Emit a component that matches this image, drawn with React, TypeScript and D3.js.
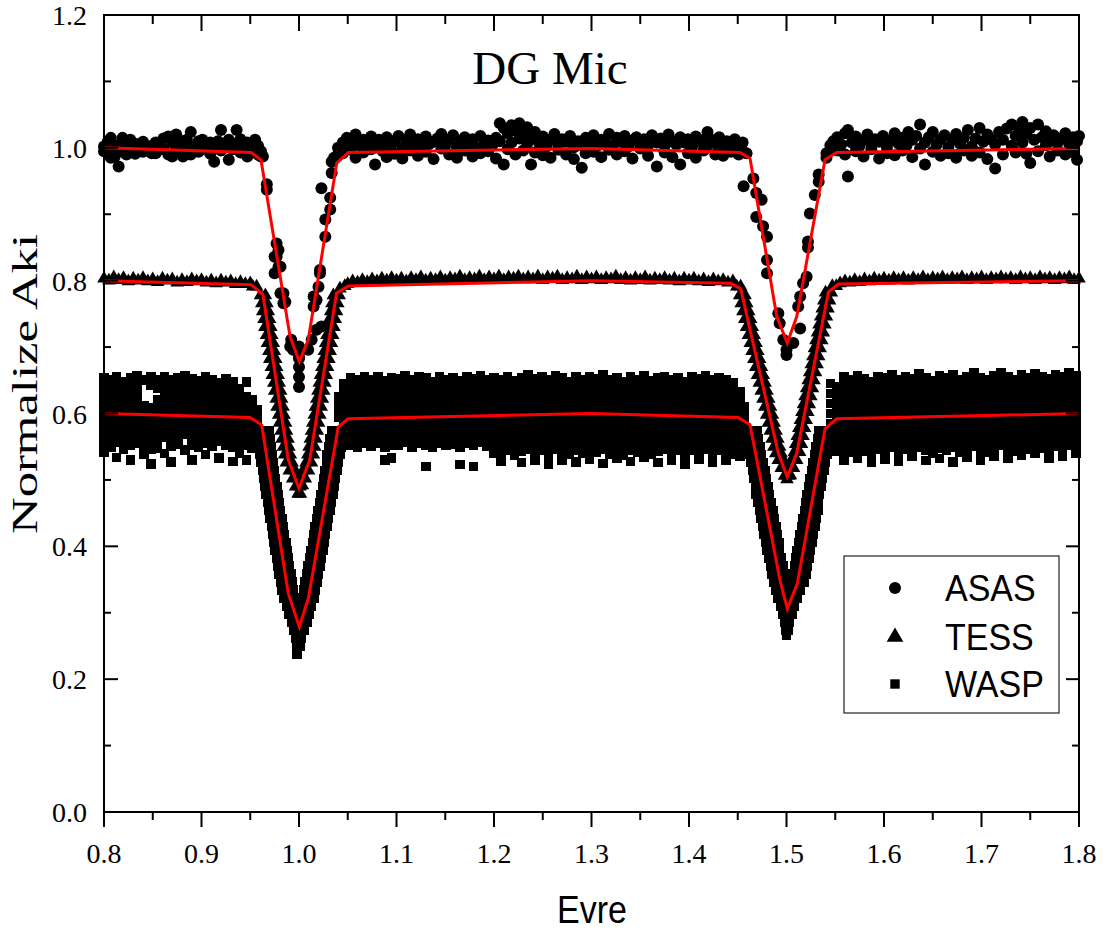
import React from "react";
import * as d3 from "d3";

const W = 1104;
const H = 938;

const xTickVals = [0.8, 0.9, 1.0, 1.1, 1.2, 1.3, 1.4, 1.5, 1.6, 1.7, 1.8];
const xMinorVals = [0.85, 0.95, 1.05, 1.15, 1.25, 1.35, 1.45, 1.55, 1.65, 1.75];
const yTickVals = [0, 0.2, 0.4, 0.6, 0.8, 1.0, 1.2];
const yMinorVals = [0.1, 0.3, 0.5, 0.7, 0.9, 1.1];
const legendLabels = ["ASAS", "TESS", "WASP"];
const titleText = "DG Mic";
const xTitle = "Evre";
const yTitle = "Normalize Aki";

// ASAS: [phase, ...fluxes]
const asasCols = [
  [0.8, 1.002, 0.995], [0.804, 1.01], [0.807, 1.015, 0.985], [0.811, 0.987, 0.998], [0.815, 0.972, 1.004],
  [0.819, 1.015, 0.995], [0.823, 0.99, 1.008], [0.827, 1.012, 0.997], [0.832, 1.006, 0.991], [0.836, 1.001],
  [0.84, 1.009, 0.994], [0.845, 0.998], [0.849, 1.003, 0.992], [0.853, 0.992, 1.008], [0.857, 1.006],
  [0.861, 1.014, 0.998], [0.866, 1.017, 0.99], [0.87, 0.987, 1.008], [0.874, 1.02, 1.0], [0.878, 0.995],
  [0.881, 0.987, 1.01], [0.885, 1.012, 0.998], [0.889, 1.024, 0.99], [0.893, 1.002], [0.897, 1.01, 0.994],
  [0.901, 0.998, 1.012], [0.905, 1.005], [0.909, 0.991, 1.008], [0.913, 0.979, 1.002], [0.917, 1.01],
  [0.92, 1.027, 0.996], [0.924, 1.004], [0.928, 0.982, 1.012], [0.932, 0.998], [0.936, 1.027, 1.006],
  [0.94, 1.013, 0.993], [0.944, 1.0], [0.947, 0.987, 1.008], [0.951, 1.007, 0.995], [0.955, 0.998, 1.012],
  [0.958, 0.99, 1.003], [0.961, 0.987, 0.995],
  [0.963, 0.987], [0.967, 0.937, 0.945], [0.975, 0.836, 0.811], [0.977, 0.856, 0.836], [0.979, 0.846, 0.821],
  [0.981, 0.821, 0.781], [0.984, 0.781, 0.766], [0.986, 0.768], [0.991, 0.701], [0.992, 0.711], [0.994, 0.696],
  [1.0, 0.701, 0.686, 0.67, 0.655, 0.64, 0.683], [1.0095, 0.696], [1.013, 0.711], [1.015, 0.776, 0.761],
  [1.018, 0.726, 0.771], [1.02, 0.791], [1.0215, 0.816, 0.811], [1.023, 0.731, 0.939], [1.027, 0.866, 0.892],
  [1.032, 0.907, 0.925], [1.0335, 0.962, 0.979], [1.036, 0.985], [1.04, 1.0, 0.99],
  [1.045, 1.008, 0.992], [1.049, 1.015], [1.053, 0.997, 1.01], [1.058, 1.02, 0.985], [1.062, 1.004],
  [1.066, 0.993, 1.012], [1.07, 1.008], [1.074, 0.998, 1.017], [1.078, 0.975, 1.003], [1.082, 1.012],
  [1.086, 0.995, 1.006], [1.09, 1.016, 0.986], [1.094, 1.003], [1.098, 0.991, 1.01], [1.102, 1.018],
  [1.106, 1.0, 0.984], [1.11, 1.011], [1.114, 0.996, 1.02], [1.118, 1.005], [1.122, 0.988, 1.013],
  [1.126, 1.002], [1.13, 1.017, 0.994], [1.134, 1.006], [1.138, 0.983, 1.009], [1.142, 1.014],
  [1.146, 0.999, 1.021], [1.15, 1.004], [1.154, 0.99, 1.012], [1.158, 1.019], [1.162, 1.001, 0.985],
  [1.166, 1.01], [1.17, 0.996, 1.016], [1.174, 1.005], [1.178, 0.987, 1.013], [1.182, 1.0],
  [1.186, 1.018, 0.992], [1.19, 1.007], [1.194, 0.995, 1.011], [1.198, 1.003], [1.202, 0.984, 1.015],
  [1.206, 1.037, 1.01], [1.21, 0.975, 1.03], [1.214, 1.022, 0.998], [1.218, 1.034, 1.008], [1.222, 1.026, 0.99],
  [1.226, 1.037, 1.014], [1.23, 1.02, 0.996], [1.234, 1.031, 1.006], [1.238, 0.975, 1.015], [1.242, 1.024, 0.993],
  [1.246, 1.008], [1.25, 0.989, 1.017], [1.254, 1.002], [1.258, 1.012, 0.985], [1.262, 1.021],
  [1.266, 0.997, 1.006], [1.27, 1.013], [1.274, 0.99, 1.009], [1.278, 1.018], [1.282, 1.001, 0.983],
  [1.286, 1.01], [1.29, 0.97, 1.004], [1.294, 1.015, 0.992], [1.298, 1.007], [1.302, 0.994, 1.019],
  [1.306, 1.003], [1.31, 0.986, 1.012], [1.314, 1.008], [1.318, 1.021, 0.997], [1.322, 1.004],
  [1.326, 0.99, 1.015], [1.33, 1.009], [1.334, 0.995, 1.018], [1.338, 1.002], [1.342, 0.984, 1.011],
  [1.346, 1.016], [1.35, 0.999, 1.007], [1.354, 1.013], [1.358, 0.988, 1.004], [1.362, 1.019],
  [1.367, 0.972, 1.008], [1.371, 1.014], [1.375, 0.993, 1.003], [1.379, 1.02], [1.383, 0.986, 1.01],
  [1.387, 1.005], [1.391, 0.975, 1.016], [1.395, 1.008], [1.399, 0.992, 1.013], [1.403, 1.001],
  [1.407, 0.985, 1.017], [1.411, 1.009], [1.415, 0.996, 1.012], [1.419, 1.024, 1.004], [1.423, 1.012],
  [1.427, 0.99, 1.007], [1.431, 1.016], [1.435, 1.002, 0.988], [1.439, 1.01], [1.443, 0.994, 1.006],
  [1.447, 1.013], [1.451, 0.99, 1.003], [1.455, 1.008, 0.995],
  [1.459, 0.992], [1.456, 0.942], [1.466, 0.954], [1.469, 0.932, 0.896], [1.4745, 0.922], [1.476, 0.882],
  [1.48, 0.866, 0.831, 0.811], [1.4916, 0.751], [1.493, 0.736], [1.4967, 0.711], [1.5, 0.696, 0.688],
  [1.507, 0.706], [1.514, 0.728, 0.776], [1.512, 0.761], [1.517, 0.796], [1.5206, 0.806], [1.522, 0.859, 0.85],
  [1.524, 0.901], [1.529, 0.929], [1.533, 0.949, 0.96], [1.541, 0.992, 0.985], [1.545, 1.004],
  [1.548, 1.01], [1.552, 0.996, 1.016], [1.556, 1.005], [1.56, 1.022, 0.99], [1.563, 1.027, 0.957],
  [1.567, 1.008], [1.571, 0.995, 1.017], [1.575, 1.003], [1.579, 0.987, 1.012], [1.583, 1.02],
  [1.587, 0.998, 1.006], [1.591, 1.013], [1.595, 0.984, 1.009], [1.599, 1.018], [1.603, 1.0, 0.992],
  [1.607, 1.011], [1.611, 0.989, 1.022], [1.615, 1.006], [1.619, 0.996, 1.015], [1.623, 1.003],
  [1.625, 1.024], [1.629, 0.986, 1.012], [1.633, 1.018], [1.637, 1.035, 0.999], [1.642, 0.975, 1.008],
  [1.646, 1.016], [1.65, 0.994, 1.024], [1.654, 1.005], [1.658, 0.988, 1.013], [1.662, 1.019],
  [1.666, 1.001, 0.992], [1.67, 1.012], [1.674, 0.985, 1.021], [1.678, 1.006], [1.682, 0.996, 1.015],
  [1.686, 1.027], [1.69, 1.002, 0.988], [1.694, 1.014], [1.698, 0.993, 1.03], [1.702, 1.009],
  [1.706, 0.983, 1.02], [1.71, 1.013], [1.714, 0.969, 1.005], [1.718, 1.024], [1.722, 0.99, 1.012],
  [1.726, 1.029], [1.731, 1.035, 1.003], [1.735, 0.993, 1.018], [1.739, 1.026], [1.742, 1.039, 1.008],
  [1.746, 0.991, 1.021], [1.75, 0.977, 1.03], [1.754, 1.012], [1.758, 1.035, 0.995], [1.762, 1.016],
  [1.766, 1.004, 1.025], [1.77, 0.987, 1.01], [1.774, 1.019], [1.778, 0.996, 1.008], [1.782, 1.014],
  [1.786, 0.99, 1.022], [1.79, 1.005], [1.794, 1.016, 0.993], [1.798, 0.982, 1.01], [1.8, 1.018],
];

// TESS out of eclipse: [phase, flux]
const tessCols = [
  [0.8, 0.803], [0.805, 0.8], [0.81, 0.805], [0.815, 0.801], [0.82, 0.804], [0.825, 0.799], [0.83, 0.803],
  [0.835, 0.8], [0.84, 0.804], [0.845, 0.799], [0.85, 0.802], [0.855, 0.798], [0.86, 0.803], [0.865, 0.8],
  [0.87, 0.802], [0.875, 0.797], [0.88, 0.801], [0.885, 0.798], [0.89, 0.802], [0.895, 0.799], [0.9, 0.801],
  [0.905, 0.797], [0.91, 0.8], [0.915, 0.796], [0.92, 0.8], [0.925, 0.797], [0.93, 0.799], [0.935, 0.795],
  [0.94, 0.798], [0.945, 0.795], [0.95, 0.796],
  [1.05, 0.795], [1.055, 0.799], [1.06, 0.797], [1.065, 0.801], [1.07, 0.798], [1.075, 0.802], [1.08, 0.799],
  [1.085, 0.803], [1.09, 0.8], [1.095, 0.804], [1.1, 0.8], [1.105, 0.803], [1.11, 0.799], [1.115, 0.804],
  [1.12, 0.801], [1.125, 0.805], [1.13, 0.8], [1.135, 0.803], [1.14, 0.801], [1.145, 0.805], [1.15, 0.8],
  [1.155, 0.804], [1.16, 0.802], [1.165, 0.806], [1.17, 0.801], [1.175, 0.804], [1.18, 0.802], [1.185, 0.806],
  [1.19, 0.801], [1.195, 0.805], [1.2, 0.802], [1.205, 0.806], [1.21, 0.801], [1.215, 0.805], [1.22, 0.803],
  [1.225, 0.806], [1.23, 0.802], [1.235, 0.805], [1.24, 0.802], [1.245, 0.806], [1.25, 0.801], [1.255, 0.805],
  [1.26, 0.803], [1.265, 0.806], [1.27, 0.801], [1.275, 0.804], [1.28, 0.802], [1.285, 0.806], [1.29, 0.801],
  [1.295, 0.805], [1.3, 0.802], [1.305, 0.805], [1.31, 0.801], [1.315, 0.804], [1.32, 0.802], [1.325, 0.806],
  [1.33, 0.801], [1.335, 0.804], [1.34, 0.8], [1.345, 0.804], [1.35, 0.801], [1.355, 0.805], [1.36, 0.8],
  [1.365, 0.803], [1.37, 0.801], [1.375, 0.804], [1.38, 0.8], [1.385, 0.803], [1.39, 0.799], [1.395, 0.803],
  [1.4, 0.8], [1.405, 0.803], [1.41, 0.799], [1.415, 0.802], [1.42, 0.798], [1.425, 0.802], [1.43, 0.799],
  [1.435, 0.801], [1.44, 0.797], [1.445, 0.799],
  [1.555, 0.796], [1.56, 0.799], [1.565, 0.797], [1.57, 0.801], [1.575, 0.798], [1.58, 0.802], [1.585, 0.799],
  [1.59, 0.803], [1.595, 0.8], [1.6, 0.803], [1.605, 0.8], [1.61, 0.804], [1.615, 0.801], [1.62, 0.804],
  [1.625, 0.8], [1.63, 0.804], [1.635, 0.801], [1.64, 0.805], [1.645, 0.801], [1.65, 0.804], [1.655, 0.802],
  [1.66, 0.805], [1.665, 0.801], [1.67, 0.804], [1.675, 0.802], [1.68, 0.805], [1.685, 0.801], [1.69, 0.804],
  [1.695, 0.802], [1.7, 0.805], [1.705, 0.801], [1.71, 0.804], [1.715, 0.802], [1.72, 0.805], [1.725, 0.802],
  [1.73, 0.804], [1.735, 0.801], [1.74, 0.805], [1.745, 0.802], [1.75, 0.804], [1.755, 0.801], [1.76, 0.805],
  [1.765, 0.802], [1.77, 0.804], [1.775, 0.801], [1.78, 0.804], [1.785, 0.802], [1.79, 0.805], [1.795, 0.801],
  [1.8, 0.803],
];

// TESS in eclipse: [flux, ...phases]
const tessEclipseRows = [
  [0.791, 0.9525, 0.9565], [0.778, 0.9605, 0.9655], [0.766, 0.9618, 0.9672], [0.754, 0.9628, 0.9685],
  [0.742, 0.9641, 0.9699], [0.73, 0.965, 0.9712], [0.718, 0.9667, 0.9722], [0.706, 0.9676, 0.9737],
  [0.694, 0.9691, 0.9748], [0.682, 0.97, 0.9762], [0.67, 0.9716, 0.9772], [0.658, 0.9725, 0.9787],
  [0.646, 0.9741, 0.9797], [0.634, 0.975, 0.9812], [0.622, 0.9766, 0.9822], [0.61, 0.9775, 0.9837],
  [0.598, 0.9791, 0.9847], [0.586, 0.98, 0.9863], [0.574, 0.9816, 0.9872], [0.562, 0.9826, 0.9888],
  [0.55, 0.984, 0.9897], [0.538, 0.9852, 0.9912], [0.526, 0.987, 0.993], [0.514, 0.99, 0.996],
  [0.502, 0.9935, 0.999], [0.49, 0.9965, 1.001], [0.479, 0.999, 1.0015],
  [0.492, 1.0035], [0.502, 1.001, 1.0065], [0.514, 1.004, 1.0098], [0.526, 1.0072, 1.0128],
  [0.538, 1.009, 1.0148], [0.55, 1.0103, 1.0162], [0.562, 1.0116, 1.0175], [0.574, 1.0129, 1.0188],
  [0.586, 1.0141, 1.0201], [0.598, 1.0156, 1.0214], [0.61, 1.0168, 1.0228], [0.622, 1.0182, 1.024],
  [0.634, 1.0194, 1.0254], [0.646, 1.0208, 1.0266], [0.658, 1.022, 1.028], [0.67, 1.0234, 1.0293],
  [0.682, 1.0247, 1.0307], [0.694, 1.026, 1.032], [0.706, 1.0273, 1.0333], [0.718, 1.0286, 1.0346],
  [0.73, 1.0299, 1.0359], [0.742, 1.0312, 1.0372], [0.754, 1.0325, 1.0385], [0.766, 1.0338, 1.0398],
  [0.778, 1.0352, 1.0412], [0.788, 1.042], [0.792, 1.047],
  [0.791, 1.449, 1.453], [0.778, 1.452, 1.4575], [0.766, 1.4535, 1.4593], [0.754, 1.4553, 1.4612],
  [0.742, 1.4572, 1.4632], [0.73, 1.459, 1.465], [0.718, 1.4609, 1.4669], [0.706, 1.4628, 1.4688],
  [0.694, 1.4646, 1.4706], [0.682, 1.4665, 1.4725], [0.67, 1.4684, 1.4744], [0.658, 1.4702, 1.4762],
  [0.646, 1.4721, 1.4781], [0.634, 1.474, 1.48], [0.622, 1.4758, 1.4818], [0.61, 1.4777, 1.4837],
  [0.598, 1.4796, 1.4856], [0.586, 1.4814, 1.4874], [0.574, 1.4833, 1.4893], [0.562, 1.4852, 1.4912],
  [0.55, 1.487, 1.493], [0.54, 1.489, 1.4945], [0.53, 1.4915, 1.497], [0.518, 1.4945, 1.5],
  [0.506, 1.498, 1.5025], [0.501, 1.5005],
  [0.507, 1.504], [0.518, 1.5018, 1.5072], [0.53, 1.505, 1.5105], [0.542, 1.508, 1.5135],
  [0.554, 1.5094, 1.5154], [0.566, 1.511, 1.517], [0.578, 1.5126, 1.5186], [0.59, 1.5142, 1.5202],
  [0.602, 1.5158, 1.5218], [0.614, 1.5174, 1.5234], [0.626, 1.519, 1.525], [0.638, 1.5206, 1.5266],
  [0.65, 1.5222, 1.5282], [0.662, 1.5238, 1.5298], [0.674, 1.5254, 1.5314], [0.686, 1.527, 1.533],
  [0.698, 1.5286, 1.5346], [0.71, 1.5302, 1.5362], [0.722, 1.5318, 1.5378], [0.734, 1.5334, 1.5394],
  [0.746, 1.535, 1.541], [0.758, 1.5366, 1.5426], [0.77, 1.5382, 1.5442], [0.782, 1.54, 1.546],
  [0.792, 1.547, 1.551],
];

// WASP out of eclipse: [phase, ...fluxes]
const waspCols = [
  [0.8, 0.654, 0.641, 0.63, 0.617, 0.603, 0.59, 0.579, 0.566, 0.553, 0.541],
  [0.807, 0.65, 0.637, 0.626, 0.612, 0.6, 0.588, 0.575, 0.561, 0.549],
  [0.813, 0.656, 0.645, 0.631, 0.619, 0.606, 0.594, 0.582, 0.569, 0.557, 0.534],
  [0.82, 0.648, 0.636, 0.622, 0.61, 0.598, 0.585, 0.572, 0.56, 0.546],
  [0.827, 0.653, 0.64, 0.627, 0.615, 0.602, 0.591, 0.578, 0.566, 0.553, 0.53],
  [0.834, 0.657, 0.644, 0.629, 0.618, 0.605, 0.593, 0.58, 0.568, 0.555],
  [0.841, 0.65, 0.612, 0.6, 0.587, 0.575, 0.563, 0.55, 0.538],
  [0.848, 0.655, 0.643, 0.608, 0.596, 0.583, 0.571, 0.558, 0.546, 0.524],
  [0.855, 0.651, 0.638, 0.621, 0.609, 0.597, 0.584, 0.572, 0.56, 0.548],
  [0.862, 0.656, 0.642, 0.63, 0.616, 0.603, 0.59, 0.577, 0.565, 0.54],
  [0.869, 0.65, 0.637, 0.625, 0.613, 0.6, 0.588, 0.576, 0.563, 0.551, 0.527],
  [0.876, 0.653, 0.641, 0.628, 0.616, 0.604, 0.591, 0.579, 0.567, 0.554],
  [0.883, 0.657, 0.644, 0.632, 0.619, 0.607, 0.594, 0.582, 0.569, 0.545],
  [0.89, 0.652, 0.639, 0.627, 0.614, 0.602, 0.59, 0.577, 0.565, 0.552, 0.53],
  [0.897, 0.649, 0.636, 0.624, 0.612, 0.599, 0.587, 0.574, 0.562, 0.55],
  [0.904, 0.655, 0.642, 0.629, 0.617, 0.605, 0.592, 0.58, 0.568, 0.555, 0.538],
  [0.911, 0.651, 0.638, 0.626, 0.613, 0.601, 0.589, 0.576, 0.564, 0.551],
  [0.918, 0.646, 0.634, 0.621, 0.609, 0.597, 0.584, 0.572, 0.559, 0.533],
  [0.925, 0.652, 0.64, 0.627, 0.615, 0.603, 0.59, 0.578, 0.566, 0.553],
  [0.932, 0.648, 0.636, 0.623, 0.611, 0.599, 0.586, 0.574, 0.561, 0.549, 0.528],
  [0.939, 0.637, 0.624, 0.612, 0.6, 0.588, 0.575, 0.563, 0.551, 0.54],
  [0.946, 0.647, 0.625, 0.613, 0.601, 0.589, 0.577, 0.565, 0.553, 0.53],
  [0.952, 0.62, 0.608, 0.596, 0.584, 0.572, 0.56, 0.548],
  [0.957, 0.605, 0.592, 0.58],
  [1.041, 0.625, 0.61, 0.595],
  [1.046, 0.645, 0.632, 0.619, 0.606, 0.594, 0.582, 0.57, 0.558],
  [1.053, 0.653, 0.64, 0.627, 0.614, 0.602, 0.59, 0.577, 0.565, 0.553],
  [1.06, 0.65, 0.637, 0.624, 0.612, 0.6, 0.587, 0.575, 0.562, 0.55],
  [1.067, 0.655, 0.642, 0.629, 0.616, 0.603, 0.591, 0.579, 0.567, 0.556],
  [1.074, 0.651, 0.638, 0.626, 0.613, 0.601, 0.589, 0.576, 0.563, 0.551],
  [1.081, 0.656, 0.643, 0.63, 0.618, 0.605, 0.593, 0.58, 0.568, 0.555],
  [1.088, 0.649, 0.636, 0.623, 0.611, 0.599, 0.586, 0.574, 0.561, 0.549, 0.53],
  [1.095, 0.654, 0.641, 0.628, 0.615, 0.603, 0.59, 0.578, 0.566, 0.553, 0.533],
  [1.102, 0.652, 0.639, 0.626, 0.614, 0.601, 0.589, 0.576, 0.564, 0.552],
  [1.109, 0.657, 0.644, 0.631, 0.619, 0.606, 0.594, 0.581, 0.569, 0.557],
  [1.116, 0.65, 0.637, 0.625, 0.612, 0.6, 0.588, 0.575, 0.563, 0.55],
  [1.123, 0.655, 0.642, 0.629, 0.617, 0.604, 0.592, 0.579, 0.567, 0.555],
  [1.13, 0.653, 0.64, 0.627, 0.615, 0.602, 0.59, 0.577, 0.565, 0.553, 0.52],
  [1.137, 0.648, 0.635, 0.622, 0.61, 0.598, 0.585, 0.573, 0.561, 0.549],
  [1.144, 0.656, 0.643, 0.63, 0.618, 0.605, 0.593, 0.581, 0.568, 0.556],
  [1.151, 0.651, 0.638, 0.625, 0.613, 0.601, 0.588, 0.576, 0.564, 0.552],
  [1.158, 0.654, 0.641, 0.628, 0.616, 0.603, 0.591, 0.579, 0.566, 0.554],
  [1.165, 0.649, 0.636, 0.624, 0.611, 0.599, 0.587, 0.574, 0.562, 0.55, 0.523],
  [1.172, 0.655, 0.642, 0.63, 0.617, 0.605, 0.592, 0.58, 0.568, 0.556],
  [1.179, 0.652, 0.639, 0.627, 0.614, 0.602, 0.59, 0.577, 0.565, 0.553, 0.52],
  [1.186, 0.657, 0.644, 0.631, 0.619, 0.606, 0.594, 0.582, 0.569, 0.557],
  [1.193, 0.65, 0.637, 0.625, 0.612, 0.6, 0.588, 0.575, 0.563, 0.551],
  [1.2, 0.654, 0.641, 0.628, 0.616, 0.603, 0.591, 0.579, 0.566, 0.554, 0.54],
  [1.207, 0.651, 0.638, 0.626, 0.613, 0.601, 0.589, 0.576, 0.564, 0.552, 0.54, 0.528],
  [1.214, 0.656, 0.643, 0.631, 0.618, 0.606, 0.593, 0.581, 0.569, 0.557, 0.545],
  [1.221, 0.649, 0.636, 0.624, 0.611, 0.599, 0.587, 0.574, 0.562, 0.55, 0.537],
  [1.228, 0.654, 0.641, 0.629, 0.616, 0.604, 0.592, 0.579, 0.567, 0.555, 0.543, 0.526],
  [1.235, 0.658, 0.645, 0.633, 0.62, 0.608, 0.595, 0.583, 0.571, 0.558, 0.546],
  [1.242, 0.652, 0.639, 0.627, 0.614, 0.602, 0.59, 0.577, 0.565, 0.553, 0.541, 0.529],
  [1.249, 0.655, 0.642, 0.63, 0.617, 0.605, 0.593, 0.58, 0.568, 0.556, 0.544],
  [1.256, 0.65, 0.637, 0.625, 0.612, 0.6, 0.588, 0.575, 0.563, 0.551, 0.539, 0.524],
  [1.263, 0.657, 0.644, 0.632, 0.619, 0.607, 0.594, 0.582, 0.57, 0.558, 0.546],
  [1.27, 0.653, 0.64, 0.628, 0.615, 0.603, 0.591, 0.578, 0.566, 0.554, 0.542, 0.53],
  [1.277, 0.648, 0.635, 0.623, 0.611, 0.599, 0.586, 0.574, 0.562, 0.55, 0.538],
  [1.284, 0.655, 0.643, 0.63, 0.618, 0.605, 0.593, 0.581, 0.568, 0.556, 0.544, 0.527],
  [1.291, 0.651, 0.638, 0.626, 0.614, 0.601, 0.589, 0.577, 0.565, 0.552, 0.54],
  [1.298, 0.656, 0.644, 0.631, 0.619, 0.606, 0.594, 0.582, 0.57, 0.557, 0.545, 0.531],
  [1.305, 0.652, 0.64, 0.627, 0.615, 0.603, 0.59, 0.578, 0.566, 0.554, 0.542],
  [1.312, 0.658, 0.645, 0.633, 0.62, 0.608, 0.596, 0.583, 0.571, 0.559, 0.547, 0.525],
  [1.319, 0.65, 0.637, 0.625, 0.613, 0.6, 0.588, 0.576, 0.564, 0.551, 0.539],
  [1.326, 0.654, 0.642, 0.629, 0.617, 0.605, 0.592, 0.58, 0.568, 0.556, 0.544, 0.532],
  [1.333, 0.647, 0.635, 0.622, 0.61, 0.598, 0.586, 0.573, 0.561, 0.549, 0.537],
  [1.34, 0.655, 0.643, 0.631, 0.618, 0.606, 0.594, 0.581, 0.569, 0.557, 0.545, 0.528],
  [1.347, 0.651, 0.639, 0.627, 0.614, 0.602, 0.59, 0.578, 0.565, 0.553, 0.541],
  [1.354, 0.657, 0.645, 0.632, 0.62, 0.608, 0.595, 0.583, 0.571, 0.559, 0.547, 0.534],
  [1.361, 0.649, 0.637, 0.624, 0.612, 0.6, 0.588, 0.575, 0.563, 0.551, 0.539],
  [1.368, 0.653, 0.641, 0.629, 0.616, 0.604, 0.592, 0.58, 0.567, 0.555, 0.543, 0.526],
  [1.375, 0.656, 0.644, 0.632, 0.619, 0.607, 0.595, 0.582, 0.57, 0.558, 0.546],
  [1.382, 0.65, 0.638, 0.626, 0.613, 0.601, 0.589, 0.577, 0.564, 0.552, 0.54, 0.53],
  [1.389, 0.654, 0.642, 0.63, 0.617, 0.605, 0.593, 0.581, 0.568, 0.556, 0.544],
  [1.396, 0.648, 0.636, 0.624, 0.611, 0.599, 0.587, 0.575, 0.562, 0.55, 0.538, 0.524],
  [1.403, 0.655, 0.643, 0.631, 0.619, 0.606, 0.594, 0.582, 0.57, 0.557, 0.545],
  [1.41, 0.652, 0.64, 0.628, 0.615, 0.603, 0.591, 0.579, 0.567, 0.554, 0.542, 0.531],
  [1.417, 0.657, 0.645, 0.633, 0.62, 0.608, 0.596, 0.584, 0.571, 0.559, 0.547],
  [1.424, 0.65, 0.638, 0.626, 0.614, 0.601, 0.589, 0.577, 0.565, 0.553, 0.541, 0.527],
  [1.431, 0.654, 0.642, 0.63, 0.618, 0.605, 0.593, 0.581, 0.569, 0.557, 0.545],
  [1.438, 0.651, 0.639, 0.627, 0.615, 0.602, 0.59, 0.578, 0.566, 0.554, 0.542, 0.529],
  [1.445, 0.646, 0.634, 0.622, 0.61, 0.598, 0.586, 0.574, 0.562, 0.55, 0.538],
  [1.452, 0.632, 0.62, 0.608, 0.596, 0.584, 0.572, 0.56, 0.548, 0.536],
  [1.457, 0.61, 0.595, 0.582],
  [1.545, 0.645, 0.63, 0.615, 0.6, 0.585],
  [1.552, 0.64, 0.628, 0.616, 0.603, 0.591, 0.579, 0.567, 0.555, 0.543],
  [1.559, 0.655, 0.643, 0.631, 0.618, 0.606, 0.594, 0.582, 0.569, 0.557, 0.545, 0.53],
  [1.566, 0.651, 0.639, 0.627, 0.614, 0.602, 0.59, 0.578, 0.565, 0.553, 0.541],
  [1.573, 0.657, 0.645, 0.633, 0.62, 0.608, 0.596, 0.583, 0.571, 0.559, 0.547, 0.533],
  [1.58, 0.652, 0.64, 0.628, 0.616, 0.603, 0.591, 0.579, 0.567, 0.555, 0.543],
  [1.587, 0.648, 0.636, 0.624, 0.612, 0.6, 0.587, 0.575, 0.563, 0.551, 0.539, 0.526],
  [1.594, 0.656, 0.644, 0.632, 0.619, 0.607, 0.595, 0.583, 0.571, 0.558, 0.546],
  [1.601, 0.653, 0.641, 0.629, 0.617, 0.604, 0.592, 0.58, 0.568, 0.556, 0.544, 0.531],
  [1.608, 0.659, 0.647, 0.634, 0.622, 0.61, 0.598, 0.586, 0.573, 0.561, 0.549],
  [1.615, 0.65, 0.638, 0.626, 0.614, 0.602, 0.589, 0.577, 0.565, 0.553, 0.541, 0.528],
  [1.622, 0.655, 0.643, 0.631, 0.619, 0.607, 0.594, 0.582, 0.57, 0.558, 0.546],
  [1.629, 0.652, 0.64, 0.628, 0.615, 0.603, 0.591, 0.579, 0.567, 0.555, 0.543, 0.535],
  [1.636, 0.66, 0.647, 0.635, 0.623, 0.611, 0.599, 0.586, 0.574, 0.562, 0.55],
  [1.643, 0.654, 0.642, 0.63, 0.618, 0.606, 0.593, 0.581, 0.569, 0.557, 0.545, 0.529],
  [1.65, 0.649, 0.637, 0.625, 0.613, 0.601, 0.589, 0.577, 0.564, 0.552, 0.54],
  [1.657, 0.657, 0.645, 0.633, 0.621, 0.609, 0.596, 0.584, 0.572, 0.56, 0.548, 0.532],
  [1.664, 0.653, 0.641, 0.629, 0.617, 0.604, 0.592, 0.58, 0.568, 0.556, 0.544],
  [1.671, 0.658, 0.646, 0.634, 0.622, 0.61, 0.598, 0.585, 0.573, 0.561, 0.549, 0.527],
  [1.678, 0.651, 0.639, 0.627, 0.615, 0.603, 0.59, 0.578, 0.566, 0.554, 0.542],
  [1.685, 0.656, 0.644, 0.632, 0.62, 0.608, 0.596, 0.583, 0.571, 0.559, 0.547, 0.534],
  [1.692, 0.661, 0.648, 0.636, 0.624, 0.612, 0.6, 0.588, 0.575, 0.563, 0.551],
  [1.699, 0.654, 0.642, 0.63, 0.618, 0.606, 0.593, 0.581, 0.569, 0.557, 0.545, 0.53],
  [1.706, 0.65, 0.638, 0.626, 0.614, 0.602, 0.59, 0.577, 0.565, 0.553, 0.541],
  [1.713, 0.657, 0.645, 0.633, 0.621, 0.609, 0.597, 0.585, 0.572, 0.56, 0.548, 0.536],
  [1.72, 0.662, 0.65, 0.638, 0.625, 0.613, 0.601, 0.589, 0.577, 0.565, 0.553],
  [1.727, 0.655, 0.643, 0.631, 0.619, 0.607, 0.595, 0.582, 0.57, 0.558, 0.546, 0.532],
  [1.734, 0.651, 0.639, 0.627, 0.615, 0.603, 0.591, 0.579, 0.567, 0.555, 0.543],
  [1.741, 0.658, 0.646, 0.634, 0.622, 0.61, 0.598, 0.586, 0.574, 0.561, 0.549, 0.537],
  [1.748, 0.654, 0.642, 0.63, 0.618, 0.606, 0.594, 0.582, 0.57, 0.558, 0.546],
  [1.755, 0.66, 0.648, 0.636, 0.624, 0.612, 0.6, 0.587, 0.575, 0.563, 0.551, 0.54],
  [1.762, 0.656, 0.644, 0.632, 0.62, 0.608, 0.596, 0.584, 0.572, 0.56, 0.548],
  [1.769, 0.652, 0.64, 0.628, 0.616, 0.604, 0.592, 0.58, 0.568, 0.556, 0.544, 0.533],
  [1.776, 0.659, 0.647, 0.635, 0.623, 0.611, 0.599, 0.587, 0.575, 0.563, 0.551],
  [1.783, 0.655, 0.643, 0.631, 0.619, 0.607, 0.595, 0.583, 0.571, 0.559, 0.547, 0.536],
  [1.79, 0.661, 0.649, 0.637, 0.625, 0.613, 0.601, 0.589, 0.577, 0.565, 0.553],
  [1.797, 0.657, 0.645, 0.633, 0.621, 0.609, 0.597, 0.585, 0.573, 0.561, 0.549, 0.54],
];

// WASP in eclipse: [flux, ...phases]
const waspEclipseRows = [
  [0.574, 0.956, 0.963, 0.969], [0.562, 0.958, 0.964, 0.97], [0.55, 0.959, 0.965, 0.971],
  [0.538, 0.96, 0.967, 0.972], [0.526, 0.961, 0.968, 0.974], [0.514, 0.963, 0.969, 0.975],
  [0.502, 0.964, 0.97, 0.976], [0.49, 0.965, 0.972, 0.978], [0.478, 0.966, 0.973, 0.979],
  [0.466, 0.968, 0.974, 0.98], [0.454, 0.969, 0.976, 0.981], [0.442, 0.97, 0.977, 0.983],
  [0.43, 0.972, 0.978, 0.984], [0.418, 0.973, 0.979, 0.985], [0.406, 0.974, 0.981, 0.987],
  [0.394, 0.975, 0.982, 0.988], [0.382, 0.977, 0.983, 0.989], [0.37, 0.978, 0.985, 0.99],
  [0.358, 0.979, 0.986, 0.992], [0.346, 0.981, 0.987, 0.993], [0.334, 0.982, 0.988, 0.994],
  [0.322, 0.984, 0.991, 0.996], [0.31, 0.987, 0.993, 0.999], [0.298, 0.99, 0.996, 1.001],
  [0.286, 0.993, 0.999, 1.004], [0.274, 0.995, 1.0, 1.005], [0.262, 0.997, 1.002], [0.25, 0.998, 1.001],
  [0.238, 0.998],
  [0.286, 1.002, 1.008], [0.298, 0.999, 1.005, 1.01], [0.31, 1.001, 1.007, 1.013], [0.322, 1.004, 1.01, 1.016],
  [0.334, 1.005, 1.011, 1.017], [0.346, 1.006, 1.012, 1.019], [0.358, 1.008, 1.014, 1.02],
  [0.37, 1.009, 1.015, 1.022], [0.382, 1.011, 1.017, 1.023], [0.394, 1.012, 1.018, 1.025],
  [0.406, 1.014, 1.02, 1.026], [0.418, 1.015, 1.021, 1.027], [0.43, 1.016, 1.022, 1.029],
  [0.442, 1.018, 1.024, 1.03], [0.454, 1.019, 1.025, 1.032], [0.466, 1.021, 1.027, 1.033],
  [0.478, 1.022, 1.028, 1.035], [0.49, 1.024, 1.03, 1.036], [0.502, 1.025, 1.031, 1.037],
  [0.514, 1.026, 1.032, 1.039], [0.526, 1.028, 1.034, 1.04], [0.538, 1.029, 1.035, 1.042],
  [0.55, 1.031, 1.037, 1.043], [0.562, 1.032, 1.038, 1.045], [0.574, 1.034, 1.04, 1.046],
  [0.574, 1.457, 1.464, 1.47], [0.562, 1.458, 1.465, 1.471], [0.55, 1.46, 1.467, 1.473],
  [0.538, 1.462, 1.468, 1.474], [0.526, 1.463, 1.47, 1.476], [0.514, 1.465, 1.472, 1.478],
  [0.502, 1.466, 1.473, 1.479], [0.49, 1.468, 1.475, 1.481], [0.478, 1.469, 1.476, 1.482],
  [0.466, 1.471, 1.478, 1.484], [0.454, 1.473, 1.48, 1.486], [0.442, 1.474, 1.481, 1.487],
  [0.43, 1.476, 1.483, 1.489], [0.418, 1.477, 1.484, 1.49], [0.406, 1.479, 1.486, 1.492],
  [0.394, 1.48, 1.487, 1.493], [0.382, 1.482, 1.489, 1.495], [0.37, 1.484, 1.491, 1.497],
  [0.358, 1.485, 1.492, 1.498], [0.346, 1.487, 1.494, 1.5], [0.334, 1.489, 1.496, 1.502],
  [0.322, 1.491, 1.498, 1.504], [0.31, 1.494, 1.5, 1.505], [0.298, 1.496, 1.501, 1.506],
  [0.286, 1.498, 1.503], [0.274, 1.499, 1.502], [0.266, 1.5],
  [0.31, 1.502, 1.508], [0.322, 1.505, 1.511], [0.334, 1.502, 1.508, 1.514], [0.346, 1.505, 1.511, 1.518],
  [0.358, 1.507, 1.513, 1.52], [0.37, 1.508, 1.514, 1.521], [0.382, 1.51, 1.516, 1.523],
  [0.394, 1.511, 1.517, 1.524], [0.406, 1.513, 1.519, 1.526], [0.418, 1.514, 1.52, 1.527],
  [0.43, 1.516, 1.522, 1.529], [0.442, 1.517, 1.523, 1.53], [0.454, 1.519, 1.525, 1.532],
  [0.466, 1.52, 1.526, 1.533], [0.478, 1.521, 1.527, 1.534], [0.49, 1.523, 1.529, 1.536],
  [0.502, 1.524, 1.53, 1.537], [0.514, 1.526, 1.532, 1.539], [0.526, 1.527, 1.533, 1.54],
  [0.538, 1.529, 1.535, 1.542], [0.55, 1.53, 1.536, 1.543], [0.562, 1.532, 1.538, 1.545],
  [0.574, 1.533, 1.539, 1.546],
];

// Fitted model curves: [phase, flux]
const asasModel = [
  [0.8, 1.0], [0.951, 0.993], [0.961, 0.982], [0.9908, 0.716], [1.0003, 0.678], [1.0095, 0.711],
  [1.0387, 0.977], [1.0506, 0.993], [1.3, 0.999], [1.4523, 0.993], [1.4626, 0.984], [1.49, 0.746],
  [1.5008, 0.706], [1.5105, 0.746], [1.5395, 0.982], [1.5515, 0.993], [1.8, 0.999],
];
const tessModel = [
  [0.8, 0.8], [0.951, 0.794], [0.963, 0.779], [0.989, 0.53], [1.0, 0.487], [1.011, 0.53],
  [1.0385, 0.781], [1.0505, 0.792], [1.3, 0.8], [1.443, 0.796], [1.453, 0.788], [1.4916, 0.54],
  [1.5008, 0.5045], [1.5105, 0.54], [1.543, 0.783], [1.5533, 0.795], [1.8, 0.8],
];
const waspModel = [
  [0.8, 0.6], [0.9497, 0.594], [0.9617, 0.583], [0.989, 0.329], [1.0003, 0.279], [1.0095, 0.321],
  [1.0403, 0.58], [1.0505, 0.592], [1.3, 0.6], [1.4505, 0.594], [1.4626, 0.583], [1.4933, 0.349],
  [1.5008, 0.306], [1.5111, 0.344], [1.5395, 0.577], [1.5515, 0.592], [1.8, 0.6],
];

const fromCols = (cols: number[][]) => cols.flatMap(([p, ...fs]) => fs.map((f) => [p, f]));
const fromRows = (rows: number[][]) => rows.flatMap(([f, ...ps]) => ps.map((p) => [p, f]));

const SERIF = "'Liberation Serif', 'Times New Roman', Times, serif";
const SANS = "'Liberation Sans', Arial, Helvetica, sans-serif";

export default function App() {
  const x = d3.scaleLinear().domain([0.8, 1.8]).range([104, 1079]);
  const y = d3.scaleLinear().domain([0, 1.2]).range([812, 15]);
  const [x0, x1] = x.range();
  const [y0, y1] = y.range();
  const fmt = d3.format(".1f");

  const asasPts = fromCols(asasCols);
  const tessPts = [...fromCols(tessCols), ...fromRows(tessEclipseRows)];
  const waspPts = [...fromCols(waspCols), ...fromRows(waspEclipseRows)];

  const tri = d3.symbol().type(d3.symbolTriangle).size(80)() as string;
  const triLegend = d3.symbol().type(d3.symbolTriangle).size(120)() as string;
  const sq = 9.6;

  const line = d3
    .line<number[]>()
    .x((d) => x(d[0]))
    .y((d) => y(d[1]));

  const legendY = [588, 637, 684];

  return (
    <svg
      width={W}
      height={H}
      viewBox={`0 0 ${W} ${H}`}
      style={{ position: "absolute", left: 0, top: 0, background: "#fff" }}
    >
      <rect x={0} y={0} width={W} height={H} fill="#fff" />

      {/* WASP squares */}
      <g fill="#000" shapeRendering="crispEdges">
        {waspPts.map((d, i) => (
          <rect key={"w" + i} x={x(d[0]) - sq / 2} y={y(d[1]) - sq / 2} width={sq} height={sq} />
        ))}
      </g>
      {/* TESS triangles */}
      <g fill="#000">
        {tessPts.map((d, i) => (
          <path key={"t" + i} d={tri} transform={`translate(${x(d[0])},${y(d[1])})`} />
        ))}
      </g>
      {/* ASAS circles */}
      <g fill="#000">
        {asasPts.map((d, i) => (
          <circle key={"a" + i} cx={x(d[0])} cy={y(d[1])} r={6} />
        ))}
      </g>

      {/* model lines */}
      <g fill="none" stroke="#ff0000" strokeWidth={3} strokeLinejoin="miter">
        <path d={line(waspModel) as string} />
        <path d={line(tessModel) as string} />
        <path d={line(asasModel) as string} />
      </g>

      {/* frame */}
      <g stroke="#000" strokeWidth={2} fill="none">
        <rect x={x0} y={y1} width={x1 - x0} height={y0 - y1} />
        {xTickVals.map((v) => (
          <g key={"xt" + v}>
            <line x1={x(v)} x2={x(v)} y1={y0} y2={y0 + 15} />
            <line x1={x(v)} x2={x(v)} y1={y1} y2={y1 + 16} />
          </g>
        ))}
        {xMinorVals.map((v) => (
          <g key={"xm" + v}>
            <line x1={x(v)} x2={x(v)} y1={y0} y2={y0 + 8} />
            <line x1={x(v)} x2={x(v)} y1={y1} y2={y1 + 9} />
          </g>
        ))}
        {yTickVals.map((v) => (
          <g key={"yt" + v}>
            <line x1={x0} x2={x0 + 14} y1={y(v)} y2={y(v)} />
            <line x1={x1} x2={x1 - 13} y1={y(v)} y2={y(v)} />
          </g>
        ))}
        {yMinorVals.map((v) => (
          <g key={"ym" + v}>
            <line x1={x0} x2={x0 + 7} y1={y(v)} y2={y(v)} />
            <line x1={x1} x2={x1 - 7} y1={y(v)} y2={y(v)} />
          </g>
        ))}
      </g>

      {/* tick labels */}
      <g fontFamily={SERIF} fontSize={28} fill="#000">
        {xTickVals.map((v) => (
          <text key={"xl" + v} x={x(v)} y={863} textAnchor="middle">
            {fmt(v)}
          </text>
        ))}
        {yTickVals.map((v) => (
          <text key={"yl" + v} x={87} y={y(v) + 10} textAnchor="end">
            {fmt(v)}
          </text>
        ))}
      </g>

      {/* title */}
      <text x={550} y={84} textAnchor="middle" fontFamily={SERIF} fontSize={47} fill="#000">
        {titleText}
      </text>

      {/* axis titles */}
      <text
        transform="translate(37,384) rotate(-90)"
        textAnchor="middle"
        fontFamily={SERIF}
        fontSize={36}
        fill="#000"
        textLength={300}
        lengthAdjust="spacingAndGlyphs"
      >
        {yTitle}
      </text>
      <text
        transform="translate(592,923) scale(1,1.15)"
        textAnchor="middle"
        fontFamily={SANS}
        fontSize={34}
        fill="#000"
      >
        {xTitle}
      </text>

      {/* legend */}
      <g>
        <rect x={844} y={556} width={215} height={157} fill="#fff" stroke="#222" strokeWidth={1.2} />
        <circle cx={895} cy={legendY[0]} r={6} fill="#000" />
        <path d={triLegend} transform={`translate(895,${legendY[1]})`} fill="#000" />
        <rect x={895 - 4.7} y={legendY[2] - 4.7} width={9.4} height={9.4} fill="#000" />
        {legendLabels.map((t, i) => (
          <text
            key={t}
            transform={`translate(945,${legendY[i] + 13}) scale(1,1.1)`}
            fontFamily={SANS}
            fontSize={34}
            fill="#000"
          >
            {t}
          </text>
        ))}
      </g>
    </svg>
  );
}
